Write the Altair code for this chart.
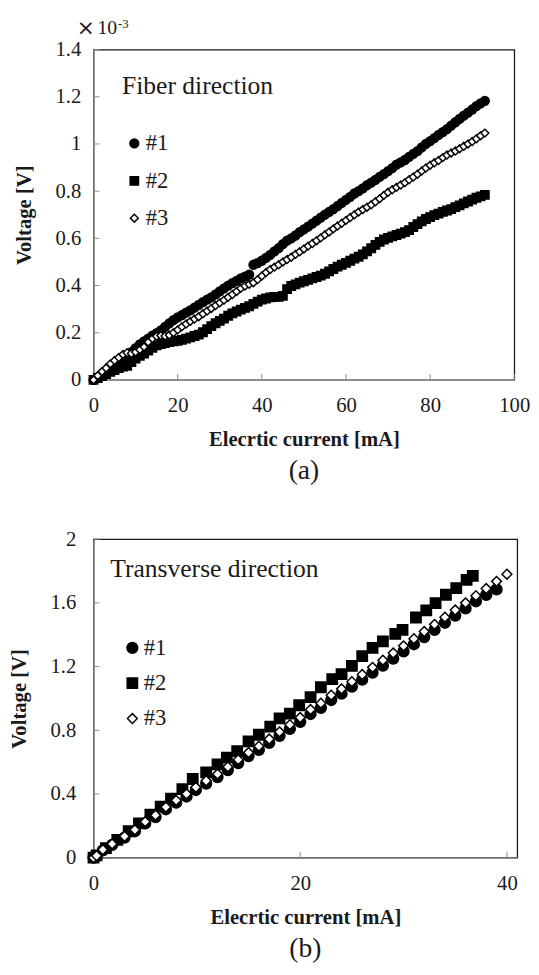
import altair as alt
import pandas as pd

FONT = "Liberation Serif"
GRAY = "#8c8c8c"
DARK = "#1a1a1a"
SERIES = ["#1", "#2", "#3"]

# ---------------- (a) Fiber direction  (voltage in 1e-3 V) ----------------
a_current = [0, 1, 2, 3, 4, 5, 6, 7, 8, 9,
             10, 11, 12, 13, 14, 15, 16, 17, 18, 19,
             20, 21, 22, 23, 24, 25, 26, 27, 28, 29,
             30, 31, 32, 33, 34, 35, 36, 37, 38, 39,
             40, 41, 42, 43, 44, 45, 46, 47, 48, 49,
             50, 51, 52, 53, 54, 55, 56, 57, 58, 59,
             60, 61, 62, 63, 64, 65, 66, 67, 68, 69,
             70, 71, 72, 73, 74, 75, 76, 77, 78, 79,
             80, 81, 82, 83, 84, 85, 86, 87, 88, 89,
             90, 91, 92, 93]
a_v1 = [0.000, 0.012, 0.025, 0.038, 0.052, 0.065, 0.079, 0.092, 0.105, 0.118,
        0.135, 0.150, 0.163, 0.175, 0.188, 0.198, 0.210, 0.225, 0.240, 0.253,
        0.265, 0.275, 0.285, 0.295, 0.306, 0.318, 0.330, 0.340, 0.350, 0.362,
        0.375, 0.388, 0.400, 0.410, 0.420, 0.430, 0.438, 0.446, 0.488, 0.495,
        0.505, 0.517, 0.530, 0.545, 0.558, 0.575, 0.590, 0.600, 0.612, 0.626,
        0.638, 0.650, 0.662, 0.675, 0.688, 0.700, 0.712, 0.724, 0.737, 0.750,
        0.763, 0.776, 0.790, 0.800, 0.812, 0.825, 0.836, 0.848, 0.860, 0.872,
        0.885, 0.898, 0.912, 0.922, 0.932, 0.945, 0.958, 0.970, 0.985, 1.000,
        1.012, 1.025, 1.038, 1.050, 1.063, 1.078, 1.092, 1.106, 1.120, 1.133,
        1.146, 1.160, 1.172, 1.183]
a_v2 = [0.000, 0.008, 0.016, 0.025, 0.034, 0.042, 0.050, 0.056, 0.060, 0.075,
        0.090, 0.102, 0.112, 0.124, 0.136, 0.146, 0.152, 0.156, 0.160, 0.163,
        0.166, 0.170, 0.175, 0.180, 0.186, 0.192, 0.202, 0.215, 0.228, 0.240,
        0.250, 0.260, 0.272, 0.282, 0.290, 0.298, 0.305, 0.312, 0.322, 0.332,
        0.340, 0.345, 0.350, 0.352, 0.352, 0.356, 0.385, 0.398, 0.405, 0.412,
        0.418, 0.424, 0.430, 0.436, 0.442, 0.450, 0.460, 0.470, 0.480, 0.488,
        0.496, 0.505, 0.514, 0.522, 0.532, 0.545, 0.558, 0.572, 0.585, 0.595,
        0.602, 0.608, 0.614, 0.620, 0.626, 0.635, 0.648, 0.660, 0.672, 0.682,
        0.690, 0.698, 0.705, 0.712, 0.718, 0.724, 0.732, 0.740, 0.748, 0.756,
        0.764, 0.772, 0.778, 0.784]
a_v3 = [0.000, 0.018, 0.035, 0.050, 0.068, 0.082, 0.095, 0.108, 0.115, 0.112,
        0.118, 0.128, 0.140, 0.160, 0.175, 0.185, 0.188, 0.186, 0.190, 0.200,
        0.212, 0.225, 0.237, 0.248, 0.258, 0.268, 0.280, 0.292, 0.303, 0.315,
        0.327, 0.338, 0.350, 0.362, 0.375, 0.388, 0.398, 0.405, 0.412, 0.425,
        0.440, 0.455, 0.468, 0.478, 0.488, 0.500, 0.510, 0.520, 0.532, 0.543,
        0.555, 0.567, 0.578, 0.590, 0.602, 0.615, 0.627, 0.640, 0.652, 0.664,
        0.676, 0.688, 0.700, 0.712, 0.722, 0.732, 0.742, 0.755, 0.768, 0.782,
        0.795, 0.806, 0.816, 0.826, 0.836, 0.848, 0.860, 0.872, 0.885, 0.898,
        0.910, 0.920, 0.930, 0.942, 0.953, 0.962, 0.970, 0.980, 0.990, 1.000,
        1.010, 1.022, 1.035, 1.046]

# ---------------- (b) Transverse direction ----------------
b_current_1 = [0, 0.3, 0.9, 1.8, 3.0, 4.0, 5.0, 6.0, 7.0, 8.0,
               9.0, 9.9, 10.9, 12.0, 13.0, 14.0, 15.0, 16.0, 17.0, 18.0,
               19.0, 20.0, 21.0, 22.0, 23.0, 24.0, 25.0, 26.0, 27.0, 28.0,
               29.0, 30.0, 31.0, 32.0, 33.0, 34.0, 35.0, 36.0, 37.0, 38.0,
               39.0]
b_v1 = [0, 0.010, 0.046, 0.080, 0.126, 0.166, 0.215, 0.255, 0.304, 0.345,
        0.384, 0.425, 0.465, 0.506, 0.550, 0.594, 0.638, 0.677, 0.721, 0.765,
        0.809, 0.853, 0.902, 0.941, 0.990, 1.030, 1.074, 1.118, 1.162, 1.206,
        1.250, 1.295, 1.340, 1.385, 1.430, 1.475, 1.520, 1.565, 1.610, 1.650,
        1.685]
b_current_2 = [0, 0.3, 1.2, 2.3, 3.4, 4.4, 5.5, 6.5, 7.5, 8.6,
               9.6, 10.9, 12.0, 12.9, 13.9, 15.0, 16.0, 17.1, 18.0, 19.0,
               19.9, 21.0, 22.0, 23.1, 24.0, 25.0, 26.0, 27.0, 28.0, 29.2,
               29.9, 31.2, 32.2, 33.1, 34.1, 35.1, 36.1, 36.7]
b_v2 = [0, 0.014, 0.060, 0.112, 0.166, 0.215, 0.270, 0.320, 0.370, 0.430,
        0.494, 0.535, 0.586, 0.628, 0.669, 0.730, 0.772, 0.823, 0.875, 0.905,
        0.957, 1.008, 1.070, 1.121, 1.152, 1.204, 1.265, 1.317, 1.358, 1.405,
        1.430, 1.508, 1.553, 1.598, 1.651, 1.692, 1.744, 1.770]
b_current_3 = [0, 0.3, 0.9, 1.8, 3.0, 4.0, 5.0, 6.0, 7.0, 8.0,
               9.0, 9.9, 10.9, 12.0, 13.0, 14.0, 15.0, 16.0, 17.0, 18.0,
               19.0, 20.0, 21.0, 22.0, 23.0, 24.0, 25.0, 26.0, 27.0, 28.0,
               29.0, 30.0, 31.0, 32.0, 33.0, 34.0, 35.0, 36.0, 37.0, 38.0,
               39.0, 40.0]
b_v3 = [0, 0.012, 0.050, 0.086, 0.134, 0.175, 0.226, 0.267, 0.318, 0.360,
        0.400, 0.442, 0.483, 0.525, 0.570, 0.615, 0.660, 0.700, 0.745, 0.790,
        0.835, 0.880, 0.930, 0.970, 1.020, 1.060, 1.105, 1.150, 1.195, 1.240,
        1.285, 1.330, 1.375, 1.420, 1.465, 1.510, 1.555, 1.600, 1.645, 1.690,
        1.735, 1.780]

a_x_ticks = [0, 20, 40, 60, 80, 100]
a_y_ticks = [0, 0.2, 0.4, 0.6, 0.8, 1.0, 1.2, 1.4]
b_x_ticks = [0, 20, 40]
b_y_ticks = [0, 0.4, 0.8, 1.2, 1.6, 2.0]


def long_df(parts):
    rows = []
    for name, xs, ys in parts:
        for x, y in zip(xs, ys):
            rows.append({"series": name, "current": x, "voltage": y})
    return pd.DataFrame(rows)


df_a = long_df([("#1", a_current, a_v1), ("#2", a_current, a_v2), ("#3", a_current, a_v3)])
df_b = long_df([("#1", b_current_1, b_v1), ("#2", b_current_2, b_v2), ("#3", b_current_3, b_v3)])


def panel(df, W, H, xdom, ydom, xticks, yticks, sizes, leg_x, leg_y, row_pad,
          ylab_pad, note, note_x, note_y, caption, extra=()):
    x_enc = alt.X("current:Q", scale=alt.Scale(domain=xdom, nice=False, zero=False),
                  axis=alt.Axis(values=xticks, format="d", labelFlush=False,
                                title="Elecrtic current [mA]"))
    y_enc = alt.Y("voltage:Q", scale=alt.Scale(domain=ydom, nice=False, zero=False),
                  axis=alt.Axis(values=yticks, format="~g", title="Voltage [V]",
                                labelPadding=ylab_pad))
    leg = alt.Legend(title=None, orient="none", legendX=leg_x, legendY=leg_y,
                     direction="vertical", labelFont=FONT, labelFontSize=23,
                     labelColor=DARK, labelOffset=0,
                     symbolStrokeWidth=1.5, rowPadding=row_pad, padding=0)
    xt = alt.Chart(pd.DataFrame({"current": xticks})).mark_rule(
        color=GRAY, strokeWidth=1).encode(x=x_enc, y=alt.value(H), y2=alt.value(H - 6))
    yt = alt.Chart(pd.DataFrame({"voltage": yticks})).mark_rule(
        color=GRAY, strokeWidth=1).encode(y=y_enc, x=alt.value(0), x2=alt.value(6))
    pts = alt.Chart(df).mark_point(filled=True, strokeWidth=1.5, opacity=1).encode(
        x=x_enc, y=y_enc,
        shape=alt.Shape("series:N", scale=alt.Scale(domain=SERIES,
                        range=["circle", "square", "diamond"]), legend=leg),
        fill=alt.Fill("series:N", scale=alt.Scale(domain=SERIES,
                      range=["black", "black", "white"]), legend=leg),
        stroke=alt.Stroke("series:N", scale=alt.Scale(domain=SERIES,
                          range=["black", "black", "black"]), legend=leg),
        size=alt.Size("series:N", scale=alt.Scale(domain=SERIES, range=sizes),
                      legend=leg),
    )
    nt = alt.Chart(pd.DataFrame({"note": [note]})).mark_text(
        align="left", baseline="middle", font=FONT, fontSize=26, color=DARK).encode(
        x=alt.value(note_x), y=alt.value(note_y), text="note:N")
    return alt.layer(xt, yt, pts, nt, *extra).properties(
        width=W, height=H,
        title=alt.TitleParams(caption, orient="bottom", anchor="middle", fontSize=28,
                              font=FONT, fontWeight="normal", color=DARK, offset=8))


exp_df = pd.DataFrame({"times": ["\u00d7"], "base": ["10"], "exp": ["-3"]})
exp_times = alt.Chart(exp_df).mark_text(align="left", baseline="middle",
                                        font="DejaVu Sans", fontSize=22, color=DARK).encode(
    x=alt.value(-17), y=alt.value(-22), text="times:N")
exp_base = alt.Chart(exp_df).mark_text(align="left", baseline="middle", font=FONT,
                                       fontSize=20, color=DARK).encode(
    x=alt.value(4), y=alt.value(-22), text="base:N")
exp_sup = alt.Chart(exp_df).mark_text(align="left", baseline="middle", font=FONT,
                                      fontSize=13, color=DARK).encode(
    x=alt.value(25), y=alt.value(-26), text="exp:N")

top = panel(df_a, 428, 336, [0, 100], [0, 1.4], a_x_ticks, a_y_ticks,
            [80, 64, 200], 30, 84, 14, 13, "Fiber direction", 29, 37, "(a)",
            extra=(exp_times, exp_base, exp_sup))
bottom = panel(df_b, 431, 324, [0, 41], [0, 2.0], b_x_ticks, b_y_ticks,
               [121, 100, 190], 28, 99, 12, 18, "Transverse direction", 17, 31, "(b)")

chart = alt.vconcat(top, bottom, spacing=42).resolve_scale(
    x="independent", y="independent", shape="independent", fill="independent",
    stroke="independent", size="independent"
).properties(
    padding={"left": 0, "top": 0, "right": 0, "bottom": 0}, background="white"
).configure_view(
    stroke=DARK, strokeWidth=1.3
).configure_axis(
    domainColor=GRAY, domainWidth=1.5, ticks=False, grid=False,
    labelFont=FONT, labelFontSize=21, labelColor=DARK,
    titleFont=FONT, titleFontSize=21, titleFontWeight="bold", titleColor=DARK
).configure_axisX(
    labelPadding=15, titlePadding=14
).configure_axisY(
    titlePadding=21
)

chart.save("out.html", embed_options={"renderer": "svg", "actions": False})
